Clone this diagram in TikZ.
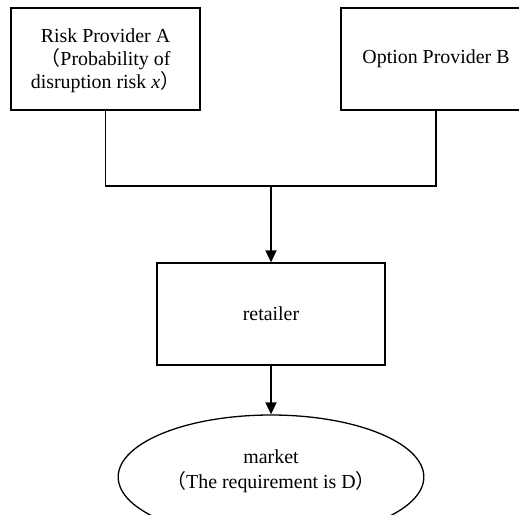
\documentclass[tikz,border=0pt]{standalone}
\usepackage{fontspec}
\setmainfont{Liberation Serif}
\newfontfamily\cjk{Noto Sans CJK SC}
\usetikzlibrary{shapes,arrows.meta,positioning,calc}

\newcommand{\lp}{{\cjk （}}
\newcommand{\rp}{{\cjk ）}}

\begin{document}
\begin{tikzpicture}[x=1pt, y=-1pt,
    font=\fontsize{19.9}{23}\selectfont,
    box/.style={draw, line width=1.3pt, align=center, minimum width=189pt, minimum height=102pt},
    link/.style={line width=1.8pt},
    arrow/.style={link, -{Triangle[length=12pt, width=11pt]}}]
    \clip (0,0) rectangle (519,514);

    % suppliers
    \node [box, text depth=0pt] (riskA) at (105.5,59) {Risk Provider A\\\lp Probability of\\disruption risk \textit{x}\rp};
    \node [box, minimum width=190pt] (optB) at (436,59) {Option Provider B};

    % retailer and market
    \node [box, minimum width=228pt] (retailer) at (271,314) {retailer};
    \node [draw, ellipse, line width=1.3pt, align=center, text depth=15pt, minimum width=296pt, minimum height=124pt] (market) at (271,477) {market\\[2pt]\lp The requirement is D\rp};

    \coordinate (join) at (271,186);
    \draw [link] (riskA.south) |- (join) -| (optB.south);
    \draw [arrow] (join) -- (retailer);
    \draw [arrow] (retailer) -- (market);

\end{tikzpicture}
\end{document}
